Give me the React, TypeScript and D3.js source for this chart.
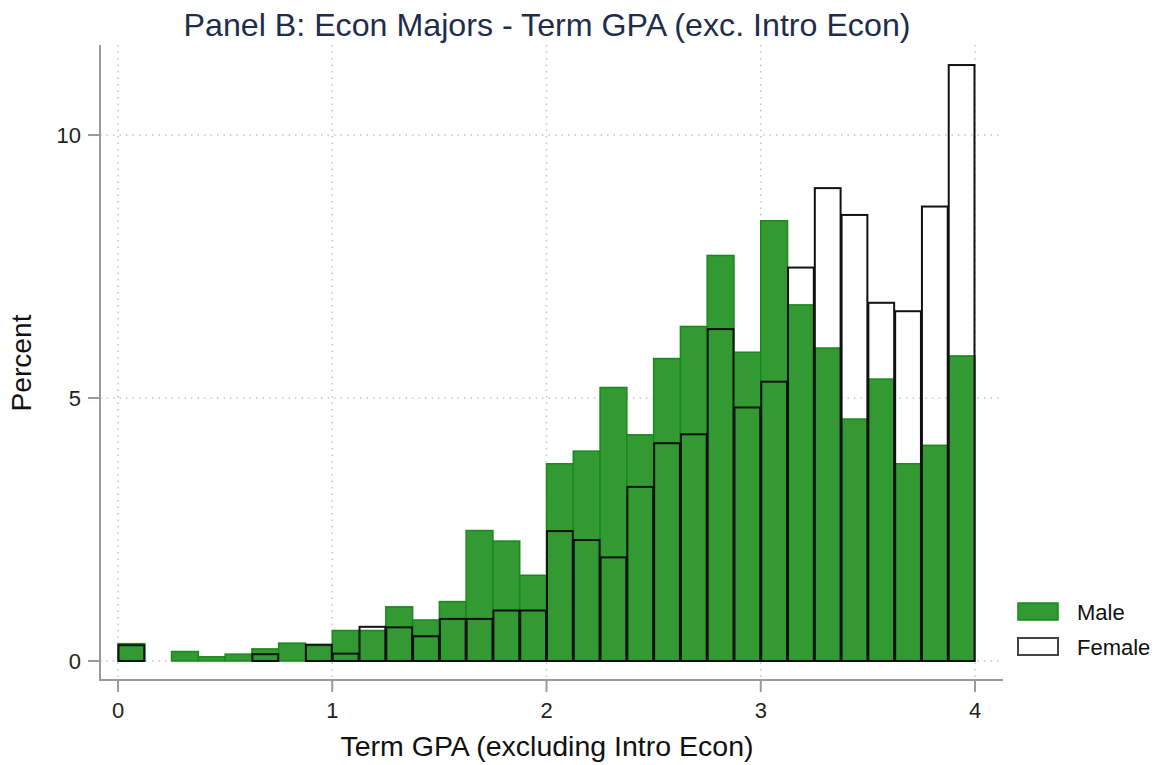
import React from "react";
import * as d3 from "d3";

const binEdges = d3.range(0, 4.0001, 0.125);
const maleValues = [0.33, 0, 0.18, 0.08, 0.13, 0.23, 0.34, 0.29, 0.58, 0.58, 1.03, 0.78, 1.13, 2.48, 2.28, 1.63, 3.75, 3.99, 5.2, 4.3, 5.75, 6.36, 7.71, 5.87, 8.37, 6.77, 5.95, 4.6, 5.36, 3.75, 4.1, 5.8];
const femaleValues = [0.3, 0, 0, 0, 0, 0.13, 0, 0.31, 0.14, 0.65, 0.64, 0.47, 0.8, 0.8, 0.96, 0.96, 2.47, 2.3, 1.97, 3.31, 4.14, 4.31, 6.31, 4.82, 5.31, 7.48, 8.99, 8.48, 6.81, 6.65, 8.64, 11.33];
const xTicks = [0, 1, 2, 3, 4];
const yTicks = [0, 5, 10];
const seriesNames = ["Male", "Female"];

const W = 1162;
const H = 765;
const FONT = "'Liberation Sans', Arial, sans-serif";

export default function App() {
  const x = d3.scaleLinear().domain([0, 4]).range([118, 975]);
  const y = d3.scaleLinear().domain([0, 10]).range([661, 135]);
  const plotLeft = 100, plotRight = 1003, plotTop = 45, plotBottom = 680;
  const grid = "#c4c4c4";
  const axisCol = "#9a9a9a";

  const bins = maleValues.map((m, i) => ({ x0: binEdges[i], x1: binEdges[i + 1], m, f: femaleValues[i] }));

  return (
    <svg width={W} height={H} style={{ position: "absolute", left: 0, top: 0, background: "#fff" }} fontFamily={FONT}>
      <rect x={0} y={0} width={W} height={H} fill="#fff" />
      {/* gridlines */}
      {yTicks.map((t) => (
        <line key={"gy" + t} x1={plotLeft} x2={plotRight} y1={y(t)} y2={y(t)} stroke={grid} strokeWidth={1.5} strokeDasharray="1.5,5" />
      ))}
      {xTicks.map((t) => (
        <line key={"gx" + t} x1={x(t)} x2={x(t)} y1={plotTop} y2={plotBottom} stroke={grid} strokeWidth={1.5} strokeDasharray="1.5,5" />
      ))}
      {/* male bars */}
      {bins.filter((b) => b.m > 0).map((b, i) => (
        <rect key={"m" + i} x={x(b.x0)} y={y(b.m)} width={x(b.x1) - x(b.x0)} height={y(0) - y(b.m)}
          fill="#339933" stroke="#18891a" strokeWidth={1.5} />
      ))}
      {/* female bars */}
      {bins.filter((b) => b.f > 0).map((b, i) => (
        <rect key={"f" + i} x={x(b.x0) + 0.5} y={y(b.f)} width={x(b.x1) - x(b.x0) - 1} height={y(0) - y(b.f)}
          fill="none" stroke="#111" strokeWidth={2} />
      ))}
      {/* axes */}
      <line x1={plotLeft} x2={plotLeft} y1={plotTop} y2={plotBottom + 1} stroke={axisCol} strokeWidth={2} />
      <line x1={plotLeft - 1} x2={plotRight} y1={plotBottom} y2={plotBottom} stroke={axisCol} strokeWidth={2} />
      {yTicks.map((t) => (
        <g key={"yt" + t}>
          <line x1={plotLeft - 12} x2={plotLeft} y1={y(t)} y2={y(t)} stroke={axisCol} strokeWidth={2} />
          <text x={plotLeft - 19} y={y(t)} dy="0.35em" textAnchor="end" fontSize={22} fill="#222">{t}</text>
        </g>
      ))}
      {xTicks.map((t) => (
        <g key={"xt" + t}>
          <line x1={x(t)} x2={x(t)} y1={plotBottom} y2={plotBottom + 12} stroke={axisCol} strokeWidth={2} />
          <text x={x(t)} y={710} dy="0.35em" textAnchor="middle" fontSize={22} fill="#222">{t}</text>
        </g>
      ))}
      {/* axis titles */}
      <text x={547} y={746} dy="0.35em" textAnchor="middle" fontSize={28} fill="#111" textLength={413} lengthAdjust="spacingAndGlyphs">Term GPA (excluding Intro Econ)</text>
      <text transform={`translate(21,363) rotate(-90)`} dy="0.35em" textAnchor="middle" fontSize={28} fill="#111" textLength={97} lengthAdjust="spacingAndGlyphs">Percent</text>
      {/* title */}
      <text x={547} y={25} dy="0.35em" textAnchor="middle" fontSize={32} fill="#1f2d4d" textLength={727} lengthAdjust="spacingAndGlyphs">Panel B: Econ Majors - Term GPA (exc. Intro Econ)</text>
      {/* legend */}
      <rect x={1018} y={603} width={40} height={17} fill="#339933" stroke="#18891a" strokeWidth={1.5} />
      <text x={1077} y={612} dy="0.35em" fontSize={22} fill="#111">{seriesNames[0]}</text>
      <rect x={1018} y={638} width={40} height={17} fill="#fff" stroke="#444" strokeWidth={2} />
      <text x={1077} y={647} dy="0.35em" fontSize={22} fill="#111">{seriesNames[1]}</text>
    </svg>
  );
}
